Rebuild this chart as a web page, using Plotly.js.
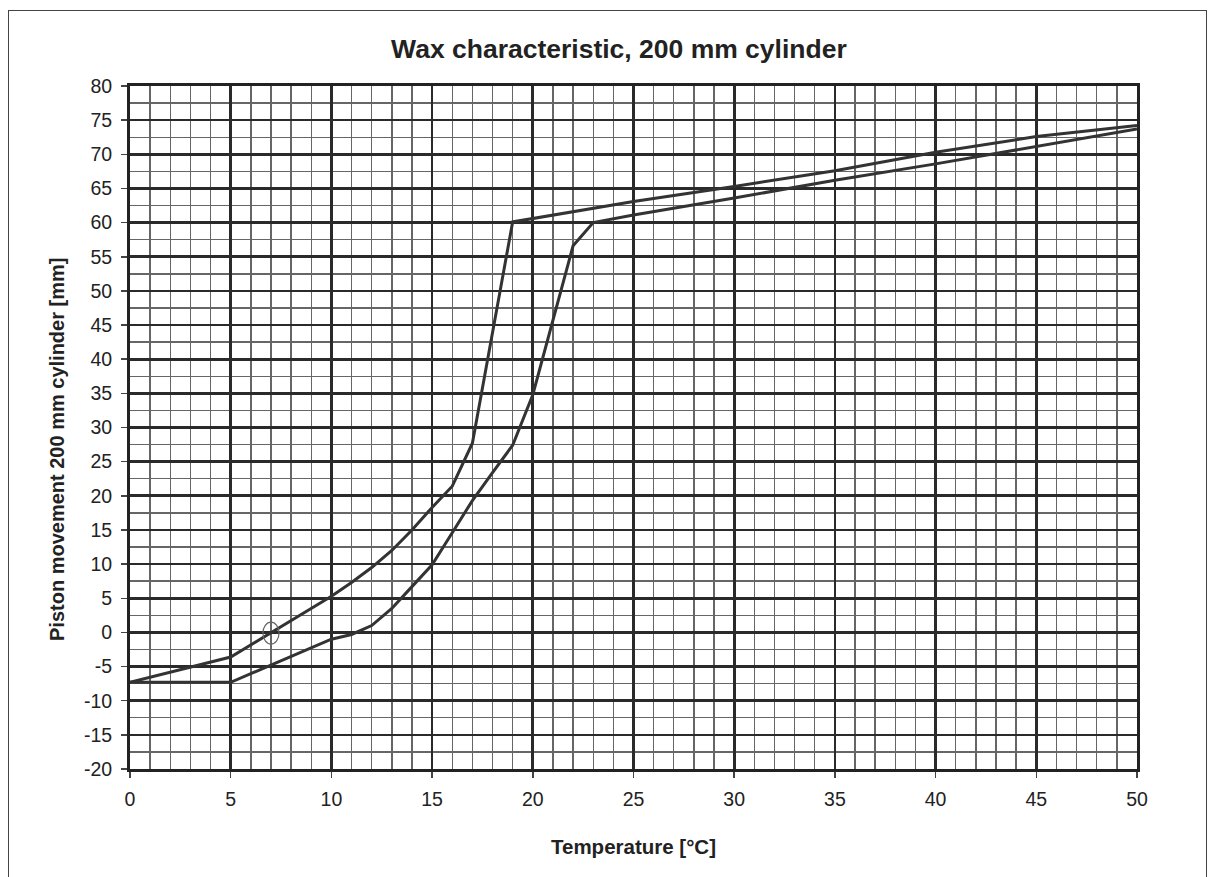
<!DOCTYPE html>
<html>
<head>
<meta charset="utf-8">
<script src="https://cdn.plot.ly/plotly-3.0.1.min.js"></script>
<style>
  html, body { margin: 0; padding: 0; background: #fff; }
  #frame { position: absolute; left: 8px; top: 10px; width: 1199px; height: 880px; border: 1px solid #444; box-sizing: border-box; }
  #chart { position: absolute; left: 0; top: 0; width: 1216px; height: 877px; }
</style>
</head>
<body>
<div id="frame"></div>
<div id="chart"></div>
<script>
// Heating curve (left branch, steep at 17-19 °C)
const tempA = [0, 5, 10, 11, 12, 13, 14, 15, 16, 17, 19, 20, 25, 30, 35, 40, 45, 50];
const moveA = [-7.3, -3.6, 5.3, 7.3, 9.5, 12, 15, 18.3, 21.4, 27.7, 60.1, 60.6, 63.1, 65.3, 67.6, 70.3, 72.6, 74.2];

// Cooling curve (right branch, steep at 20-22 °C)
const tempB = [0, 5, 10, 11, 12, 13, 14, 15, 16, 17, 18, 19, 20, 22, 23, 25, 30, 35, 40, 45, 50];
const moveB = [-7.3, -7.3, -1.0, -0.3, 1.0, 3.5, 6.7, 9.9, 14.6, 19.3, 23.4, 27.4, 34.8, 56.6, 60.0, 61.1, 63.6, 66.2, 68.6, 71.1, 73.7];

// Tick labels
const xTicks = [0, 5, 10, 15, 20, 25, 30, 35, 40, 45, 50];
const xTickText = ['0', '5', '10', '15', '20', '25', '30', '35', '40', '45', '50'];
const yTicks = [-20, -15, -10, -5, 0, 5, 10, 15, 20, 25, 30, 35, 40, 45, 50, 55, 60, 65, 70, 75, 80];
const yTickText = ['-20', '-15', '-10', '-5', '0', '5', '10', '15', '20', '25', '30', '35', '40', '45', '50', '55', '60', '65', '70', '75', '80'];

// Axis ranges and minor grid steps
const xRange = [0, 50];
const yRange = [-20, 80];
const xMinor = 1;
const yMinor = 2.5;

const lineStyle = { color: '#333333', width: 3 };
const font = { family: 'Liberation Sans, Arial, sans-serif', color: '#222' };

const traces = [
  { x: [], y: [], type: 'scatter', mode: 'lines', xaxis: 'x', yaxis: 'y', hoverinfo: 'skip', showlegend: false },
  { x: tempA, y: moveA, type: 'scatter', mode: 'lines', line: lineStyle, name: 'A', xaxis: 'x2', yaxis: 'y2' },
  { x: tempB, y: moveB, type: 'scatter', mode: 'lines', line: lineStyle, name: 'B', xaxis: 'x2', yaxis: 'y2' }
];

function minorAxis(range, step) {
  return {
    range: range, tickmode: 'linear', tick0: 0, dtick: step,
    showgrid: true, gridcolor: '#666666', gridwidth: 1.4,
    showticklabels: false, ticks: '', showline: false, zeroline: false, fixedrange: true
  };
}

function majorAxis(range, vals, text, overlay, side, standoff) {
  return {
    overlaying: overlay, side: side,
    range: range, tickmode: 'array', tickvals: vals, ticktext: text,
    showgrid: true, gridcolor: '#2a2a2a', gridwidth: 2.6,
    showline: true, linecolor: '#222', linewidth: 3, mirror: true,
    ticks: 'outside', ticklen: 6, tickcolor: '#444', tickwidth: 1.5,
    ticklabelstandoff: standoff,
    zeroline: false, tickfont: Object.assign({}, font, { size: 19.5 }),
    fixedrange: true
  };
}

const layout = {
  width: 1216, height: 877,
  margin: { l: 130, r: 79, t: 86, b: 108 },
  paper_bgcolor: 'rgba(0,0,0,0)',
  plot_bgcolor: '#ffffff',
  showlegend: false,
  font: Object.assign({ size: 19.5 }, font),
  title: {
    text: '<b>Wax characteristic, 200 mm cylinder</b>',
    font: Object.assign({}, font, { size: 26.5 }),
    x: 0.509, xanchor: 'center', y: 0.945, yanchor: 'middle'
  },
  xaxis: minorAxis(xRange, xMinor),
  yaxis: minorAxis(yRange, yMinor),
  xaxis2: majorAxis(xRange, xTicks, xTickText, 'x', 'bottom', 5),
  yaxis2: majorAxis(yRange, yTicks, yTickText, 'y', 'left', 5),
  annotations: [
    { text: '<b>Piston movement 200 mm cylinder [mm]</b>', xref: 'paper', yref: 'paper',
      x: -0.0725, y: 0.4685, xanchor: 'center', yanchor: 'middle', textangle: -90, showarrow: false,
      font: Object.assign({}, font, { size: 20 }) }
  ],
  shapes: [
    { type: 'circle', xref: 'x2', yref: 'y2', x0: 6.6, x1: 7.4, y0: -1.7, y1: 1.5, line: { color: '#666', width: 1.2 } }
  ]
};
layout.xaxis2.title = { text: '<b>Temperature [°C]</b>', font: Object.assign({}, font, { size: 20.5 }), standoff: 31 };

Plotly.newPlot('chart', traces, layout, { displayModeBar: false, staticPlot: true });
</script>
</body>
</html>
